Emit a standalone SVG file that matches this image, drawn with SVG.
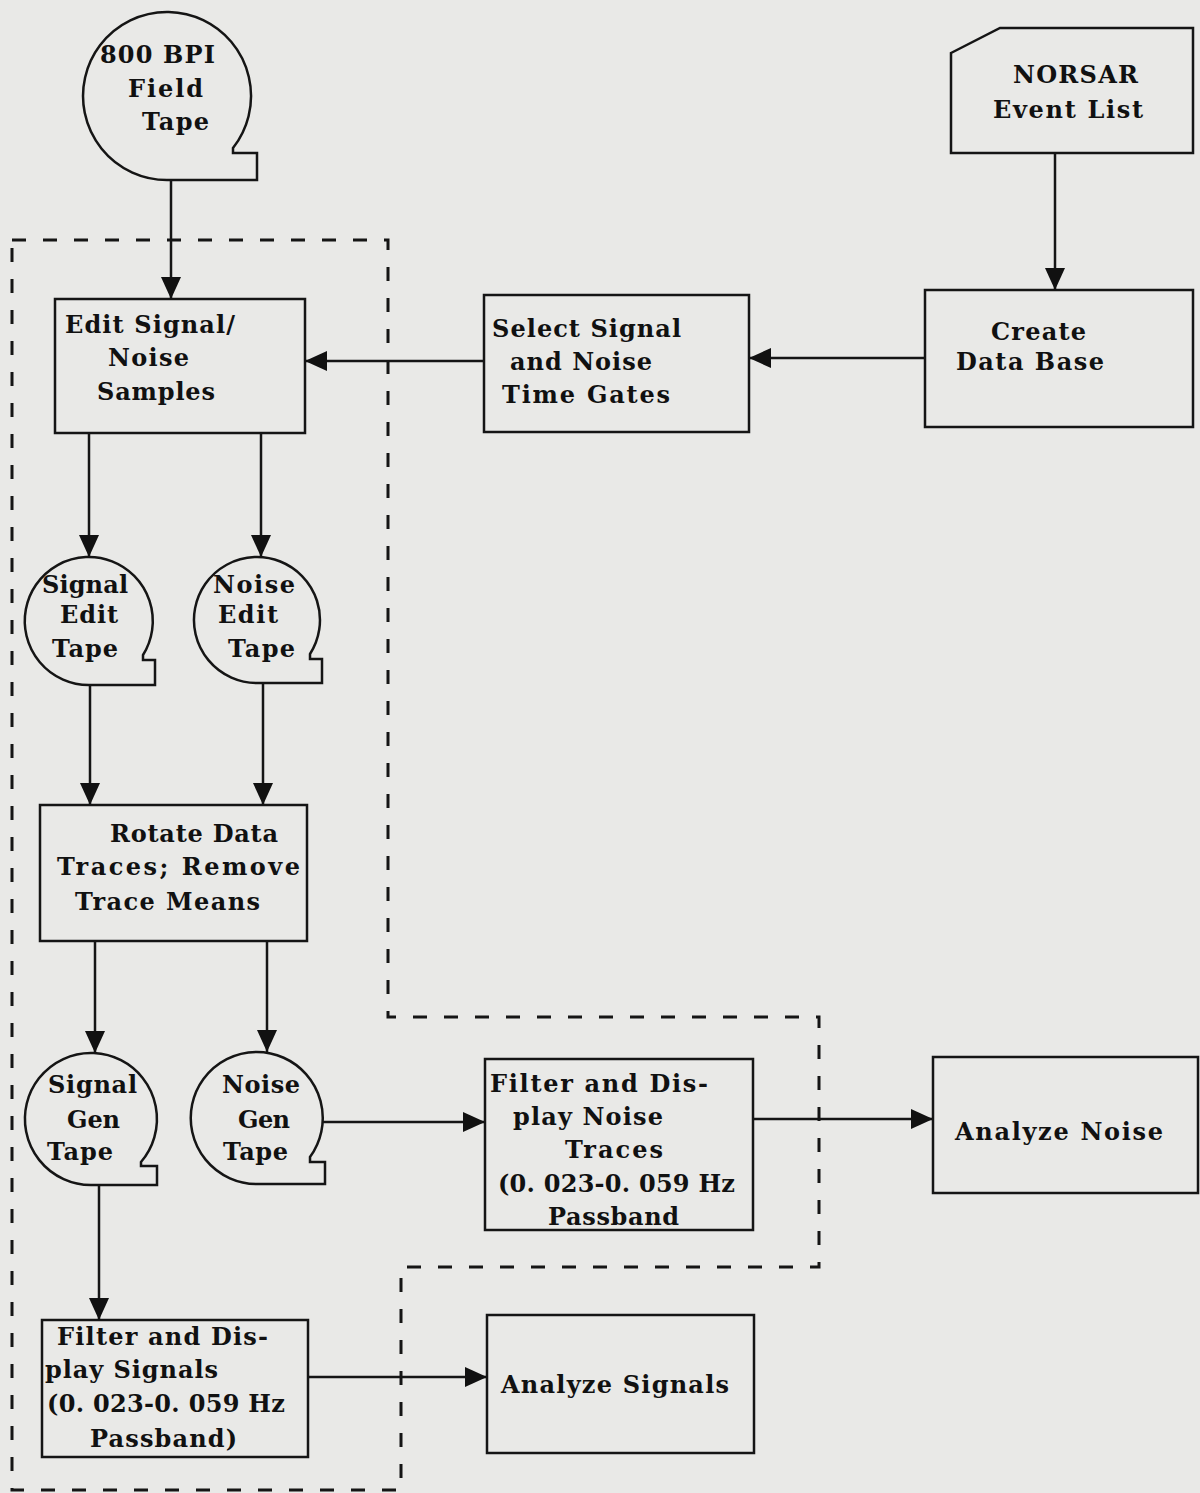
<svg xmlns="http://www.w3.org/2000/svg" width="1200" height="1493" viewBox="0 0 1200 1493">
<style>
.bg{fill:#e9e9e7}
.box{fill:none;stroke:#151515;stroke-width:2.5}
.tape{fill:none;stroke:#151515;stroke-width:2.5;stroke-linejoin:miter}
.dash{fill:none;stroke:#151515;stroke-width:3;stroke-dasharray:14 17}
.ln{fill:none;stroke:#151515;stroke-width:2.5;marker-end:url(#ah)}
text{font-family:"DejaVu Serif","Liberation Serif",serif;font-weight:bold;font-size:24px;fill:#111}
</style>
<defs>
<marker id="ah" viewBox="0 0 22 20" refX="22" refY="10" markerWidth="22" markerHeight="20" markerUnits="userSpaceOnUse" orient="auto">
<path d="M0,0 L22,10 L0,20 z" fill="#111"/>
</marker>
</defs>
<rect class="bg" x="0" y="0" width="1200" height="1493"/>

<g id="regions">
<path class="dash" d="M12,240 H388 V1017 H819 V1267 H401 V1490 H12 Z"/>
</g>

<g id="field-tape">
<path class="tape" d="M167,180 A84,84 0 1 1 233,148 L233,153 L257,153 L257,180 Z"/>
<text x="100" y="63" textLength="115">800 BPI</text>
<text x="128" y="97" textLength="75">Field</text>
<text x="142" y="130" textLength="67">Tape</text>
</g>

<g id="norsar-event-list">
<path class="box" d="M951,53 L1000,28 L1193,28 L1193,153 L951,153 Z"/>
<text x="1013" y="83" textLength="125">NORSAR</text>
<text x="993" y="118" textLength="150">Event List</text>
</g>

<g id="create-data-base">
<rect class="box" x="925" y="290" width="268" height="137"/>
<text x="991" y="340" textLength="95">Create</text>
<text x="956" y="370" textLength="148">Data Base</text>
</g>

<g id="select-time-gates">
<rect class="box" x="484" y="295" width="265" height="137"/>
<text x="492" y="337" textLength="189">Select Signal</text>
<text x="510" y="370" textLength="142">and Noise</text>
<text x="502" y="403" textLength="168">Time Gates</text>
</g>

<g id="edit-samples">
<rect class="box" x="55" y="299" width="250" height="134"/>
<text x="65" y="333" textLength="170">Edit Signal/</text>
<text x="108" y="366" textLength="81">Noise</text>
<text x="97" y="400" textLength="118">Samples</text>
</g>

<g id="signal-edit-tape">
<path class="tape" d="M89,685 A64,64 0 1 1 143,655 L143,660 L155,660 L155,685 Z"/>
<text x="42" y="593" textLength="86">Signal</text>
<text x="60" y="623" textLength="58">Edit</text>
<text x="52" y="657" textLength="66">Tape</text>
</g>

<g id="noise-edit-tape">
<path class="tape" d="M257,683 A63,63 0 1 1 310,654 L310,659 L322,659 L322,683 Z"/>
<text x="213" y="593" textLength="82">Noise</text>
<text x="218" y="623" textLength="60">Edit</text>
<text x="228" y="657" textLength="67">Tape</text>
</g>

<g id="rotate-traces">
<rect class="box" x="40" y="805" width="267" height="136"/>
<text x="110" y="842" textLength="168">Rotate Data</text>
<text x="57" y="875" textLength="243">Traces; Remove</text>
<text x="75" y="910" textLength="185">Trace Means</text>
</g>

<g id="signal-gen-tape">
<path class="tape" d="M91,1185 A66,66 0 1 1 141,1162 L141,1166 L157,1166 L157,1185 Z"/>
<text x="48" y="1093" textLength="89">Signal</text>
<text x="67" y="1128" textLength="53">Gen</text>
<text x="47" y="1160" textLength="66">Tape</text>
</g>

<g id="noise-gen-tape">
<path class="tape" d="M257,1184 A66,66 0 1 1 310,1157 L310,1162 L325,1162 L325,1184 Z"/>
<text x="222" y="1093" textLength="78">Noise</text>
<text x="238" y="1128" textLength="52">Gen</text>
<text x="223" y="1160" textLength="65">Tape</text>
</g>

<g id="filter-noise">
<rect class="box" x="485" y="1059" width="268" height="171"/>
<text x="490" y="1092" textLength="218">Filter and Dis-</text>
<text x="513" y="1125" textLength="150">play Noise</text>
<text x="565" y="1158" textLength="98">Traces</text>
<text x="498" y="1192" textLength="237">(0. 023-0. 059 Hz</text>
<text x="548" y="1225" textLength="131">Passband</text>
</g>

<g id="analyze-noise">
<rect class="box" x="933" y="1057" width="265" height="136"/>
<text x="955" y="1140" textLength="208">Analyze Noise</text>
</g>

<g id="filter-signals">
<rect class="box" x="42" y="1320" width="266" height="137"/>
<text x="57" y="1345" textLength="211">Filter and Dis-</text>
<text x="45" y="1378" textLength="173">play Signals</text>
<text x="47" y="1412" textLength="238">(0. 023-0. 059 Hz</text>
<text x="90" y="1447" textLength="147">Passband)</text>
</g>

<g id="analyze-signals">
<rect class="box" x="487" y="1315" width="267" height="138"/>
<text x="501" y="1393" textLength="228">Analyze Signals</text>
</g>

<g id="connectors">
<path class="ln" d="M171,180 V299"/>
<path class="ln" d="M1055,153 V290"/>
<path class="ln" d="M925,358 H749"/>
<path class="ln" d="M484,361 H305"/>
<path class="ln" d="M89,433 V557"/>
<path class="ln" d="M261,433 V557"/>
<path class="ln" d="M90,685 V805"/>
<path class="ln" d="M263,683 V805"/>
<path class="ln" d="M95,941 V1053"/>
<path class="ln" d="M267,941 V1052"/>
<path class="ln" d="M99,1185 V1320"/>
<path class="ln" d="M323,1122 H485"/>
<path class="ln" d="M753,1119 H933"/>
<path class="ln" d="M308,1377 H487"/>
</g>
</svg>
